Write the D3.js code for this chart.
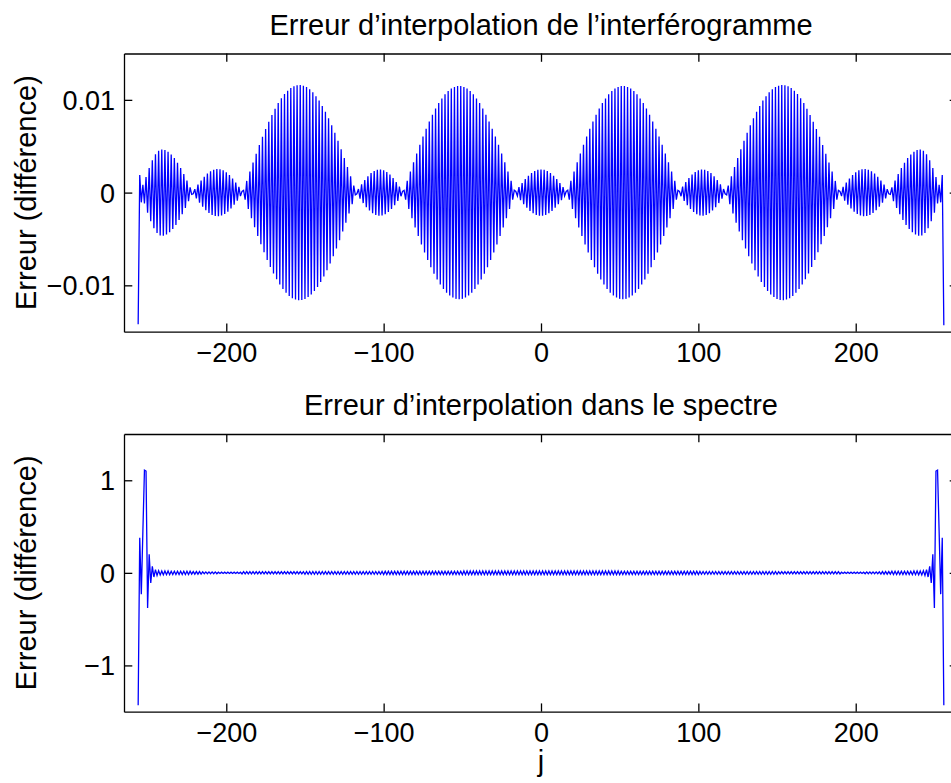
<!DOCTYPE html>
<html>
<head>
<meta charset="utf-8">
<title>Erreur d'interpolation</title>
<script src="https://d3js.org/d3.v7.min.js"></script>
<style>
  body { margin: 0; background: #fff; }
  svg { display: block; font-family: "Liberation Sans", Arial, Helvetica, sans-serif; }
  .axis path, .axis line { stroke: #000; stroke-width: 1.3; }
  .axis text { font-size: 27px; fill: #000; font-family: "Liberation Sans", Arial, sans-serif; }
  .title, .label { font-size: 29px; fill: #000; }
</style>
</head>
<body>
<div id="chart"></div>
<script>
// sample index j runs from jStart upwards, one value per sample
var jStart = -256;

// interferogram error, units of 1e-5
var interfErr = [
  -1420,
  190, -105, 85, -118, 168, -218, 265, -310, 349, -384, 413, -436, 452, -462, 465,
  -464, 459, -452, 441, -428, 412, -393, 372, -348, 322, -294, 264, -233, 199, -165, 129, -93, 56, -19,
  -13, 37, -62, 86, -109, 131, -152, 171, -189, 205, -219, 231, -240, 247, -252, 255,
  -255, 252, -247, 240, -231, 219, -205, 189, -171, 152, -131, 109, -86, 62, -37, 13,
  25, -76, 126, -176, 226, -276, 325, -373, 420, -467, 513, -558, 602, -644, 686, -726, 765, -802,
  838, -872, 905, -935, 965, -992, 1017, -1040, 1062, -1081, 1098, -1114, 1127, -1138, 1147, -1153, 1158, -1160,
  1160, -1158, 1153, -1147, 1138, -1127, 1114, -1098, 1081, -1062, 1040, -1017, 992, -965, 935, -905, 872, -838,
  802, -765, 726, -686, 644, -602, 558, -513, 467, -420, 373, -325, 276, -226, 176, -126, 76, -25,
  -13, 39, -65, 90, -113, 136, -157, 177, -194, 210, -223, 233, -241, 247, -250,
  250, -247, 241, -233, 223, -210, 194, -177, 157, -136, 113, -90, 65, -39, 13,
  25, -76, 127, -177, 227, -277, 326, -375, 422, -469, 515, -560, 604, -647, 688, -728, 767, -804,
  840, -874, 906, -936, 965, -992, 1016, -1039, 1060, -1079, 1095, -1110, 1122, -1132, 1140, -1146, 1149,
  -1150,
  1149, -1146, 1140, -1132, 1122, -1110, 1095, -1079, 1060, -1039, 1016, -992, 965, -936, 906, -874, 840,
  -804, 767, -728, 688, -647, 604, -560, 515, -469, 422, -375, 326, -277, 227, -177, 127, -76, 25,
  12, -36, 59, -82, 104, -125, 145, -164, 181, -197, 210, -222, 232, -240, 245, -249,
  250,
  -249, 245, -240, 232, -222, 210, -197, 181, -164, 145, -125, 104, -82, 59, -36, 12,
  25, -76, 127, -177, 227, -277, 326, -375, 422, -469, 515, -560, 604, -647, 688, -728, 767, -804,
  840, -874, 906, -936, 965, -992, 1016, -1039, 1060, -1079, 1095, -1110, 1122, -1132, 1140, -1146, 1149,
  -1150,
  1149, -1146, 1140, -1132, 1122, -1110, 1095, -1079, 1060, -1039, 1016, -992, 965, -936, 906, -874, 840,
  -804, 767, -728, 688, -647, 604, -560, 515, -469, 422, -375, 326, -277, 227, -177, 127, -76, 25,
  13, -39, 65, -90, 113, -136, 157, -177, 194, -210, 223, -233, 241, -247, 250,
  -250, 247, -241, 233, -223, 210, -194, 177, -157, 136, -113, 90, -65, 39, -13,
  -25, 76, -126, 176, -226, 276, -325, 373, -420, 467, -513, 558, -602, 644, -686, 726, -765, 802,
  -838, 872, -905, 935, -965, 992, -1017, 1040, -1062, 1081, -1098, 1114, -1127, 1138, -1147, 1153, -1158, 1160,
  -1160, 1158, -1153, 1147, -1138, 1127, -1114, 1098, -1081, 1062, -1040, 1017, -992, 965, -935, 905, -872, 838,
  -802, 765, -726, 686, -644, 602, -558, 513, -467, 420, -373, 325, -276, 226, -176, 126, -76, 25,
  13, -37, 62, -86, 109, -131, 152, -171, 189, -205, 219, -231, 240, -247, 252, -255,
  255, -252, 247, -240, 231, -219, 205, -189, 171, -152, 131, -109, 86, -62, 37, -13,
  -19, 56, -93, 129, -165, 199, -233, 264, -294, 322, -348, 372, -393, 412, -428, 441, -452, 459, -464,
  465, -462, 452, -436, 413, -384, 349, -310, 265, -218, 168, -118, 85, -105, 190,
  -1430
];

// spectrum error, units of 1e-3
var spectErr = [
  -1430, 380, -230, 450, 1110, 1100, -380, 200, -110, 70, -45, 35, -28, 24, -22, 21,
  -20, 20, -20, 20, -20,
  18, -18, 18, -18, 18, -18, 18, -18, 18, -18, 18, -18, 18,
  -14, 14, -14, 14, -14, 14, -14,
  10, -10, 10, -10, 10, -10, 10, -10, 10, -10,
  7, -7, 7, -7, 7, -7, 7, -7, 7, -7, 7, -7, 7, -7, 7,
  -12, 12, -12, 12, -12, 12, -12, 12, -12, 12, -12, 12, -12, 12, -12, 12, -12, 12, -12, 12,
  -12, 12, -12, 12, -12, 12, -12, 12, -12, 12, -12, 12, -12, 12, -12, 12, -12, 12, -12, 12,
  -15, 15, -15, 15, -15, 15, -15, 15, -15, 15, -15, 15, -15, 15, -15, 15, -15, 15, -15, 15,
  -15, 15, -15, 15, -15, 15, -15, 15, -15, 15, -15, 15, -15, 15, -15, 15, -15, 15, -15, 15,
  -15, 15, -15, 15, -15, 15, -15, 15, -15, 15,
  -18, 18, -18, 18, -18, 18, -18, 18, -18, 18, -18, 18, -18, 18, -18, 18, -18, 18, -18, 18,
  -18, 18, -18, 18, -18, 18, -18, 18, -18, 18, -18, 18, -18, 18, -18, 18, -18, 18, -18, 18,
  -18, 18, -18, 18, -18, 18, -18, 18, -18, 18,
  -20, 20, -20, 20, -20, 20, -20, 20, -20, 20, -20, 20, -20, 20, -20, 20, -20, 20, -20, 20,
  -20, 20, -20, 20, -20, 20, -20, 20, -20, 20, -20, 20, -20, 20, -20, 20, -20, 20, -20, 20,
  -20, 20, -20, 20, -20, 20, -20, 20, -20, 20,
  -20,
  20, -20, 20, -20, 20, -20, 20, -20, 20, -20, 20, -20, 20, -20, 20, -20, 20, -20, 20, -20,
  20, -20, 20, -20, 20, -20, 20, -20, 20, -20, 20, -20, 20, -20, 20, -20, 20, -20, 20, -20,
  20, -20, 20, -20, 20, -20, 20, -20, 20, -20,
  18, -18, 18, -18, 18, -18, 18, -18, 18, -18, 18, -18, 18, -18, 18, -18, 18, -18, 18, -18,
  18, -18, 18, -18, 18, -18, 18, -18, 18, -18, 18, -18, 18, -18, 18, -18, 18, -18, 18, -18,
  18, -18, 18, -18, 18, -18, 18, -18, 18, -18,
  15, -15, 15, -15, 15, -15, 15, -15, 15, -15, 15, -15, 15, -15, 15, -15, 15, -15, 15, -15,
  15, -15, 15, -15, 15, -15, 15, -15, 15, -15, 15, -15, 15, -15, 15, -15, 15, -15, 15, -15,
  15, -15, 15, -15, 15, -15, 15, -15, 15, -15,
  12, -12, 12, -12, 12, -12, 12, -12, 12, -12, 12, -12, 12, -12, 12, -12, 12, -12, 12, -12,
  12, -12, 12, -12, 12, -12, 12, -12, 12, -12, 12, -12, 12, -12, 12, -12, 12, -12, 12, -12,
  7, -7, 7, -7, 7, -7, 7, -7, 7, -7, 7, -7, 7, -7, 7,
  -10, 10, -10, 10, -10, 10, -10, 10, -10, 10,
  -14, 14, -14, 14, -14, 14, -14,
  18, -18, 18, -18, 18, -18, 18, -18, 18, -18, 18, -18, 18,
  -20, 20, -20, 20, -20,
  21, -22, 24, -28, 35, -45, 70, -110, 200, -380, 1100, 1110, 450, -230, 380, -1430
];

var xTicks = [-200, -100, 0, 100, 200];
var yTicksTop = [-1000, 0, 1000];
var yTickLabelsTop = ['\u22120.01', '0', '0.01'];
var yTicksBot = [-1000, 0, 1000];
var yTickLabelsBot = ['\u22121', '0', '1'];

var W = 951, H = 783;
var left = 124, right = 958, tick = 8.3;

var svg = d3.select('#chart').append('svg')
  .attr('width', W)
  .attr('height', H);

var x = d3.scaleLinear().domain([-265, 265]).range([left, right]);

function fmtX(d) { return d < 0 ? '\u2212' + (-d) : String(d); }

function panel(top, bottom, values, yTicks, yLabels, title, xlabel) {
  var y = d3.scaleLinear().domain([-1500, 1500]).range([bottom, top]);
  var g = svg.append('g');

  g.append('path')
    .datum(values)
    .attr('fill', 'none')
    .attr('stroke', '#0000ff')
    .attr('stroke-width', 1.3)
    .attr('d', d3.line()
      .x((d, i) => x(jStart + i))
      .y(d => y(d)));

  g.append('g').attr('class', 'axis')
    .attr('transform', 'translate(0,' + bottom + ')')
    .call(d3.axisBottom(x).tickValues(xTicks).tickSizeInner(-tick).tickSizeOuter(0)
      .tickPadding(11).tickFormat(fmtX));
  g.append('g').attr('class', 'axis')
    .attr('transform', 'translate(0,' + top + ')')
    .call(d3.axisTop(x).tickValues(xTicks).tickSizeInner(-tick).tickSizeOuter(0)
      .tickFormat(''));
  g.append('g').attr('class', 'axis')
    .attr('transform', 'translate(' + left + ',0)')
    .call(d3.axisLeft(y).tickValues(yTicks).tickSizeInner(-tick).tickSizeOuter(0)
      .tickPadding(9).tickFormat((d, i) => yLabels[i]));
  g.append('g').attr('class', 'axis')
    .attr('transform', 'translate(' + right + ',0)')
    .call(d3.axisRight(y).tickValues(yTicks).tickSizeInner(-tick).tickSizeOuter(0)
      .tickFormat(''));

  g.selectAll('.axis text').each(function () {
    var t = d3.select(this);
    if (t.attr('x') !== null && +t.attr('x') < 0) t.attr('dy', '0.35em');
    else t.attr('dy', '0.71em');
  });

  g.append('text').attr('class', 'title')
    .attr('x', (left + right) / 2)
    .attr('y', top - 19)
    .attr('text-anchor', 'middle')
    .text(title);

  g.append('text').attr('class', 'label')
    .attr('transform', 'translate(36,' + (top + bottom) / 2 + ') rotate(-90)')
    .attr('text-anchor', 'middle')
    .text('Erreur (différence)');

  if (xlabel) {
    g.append('text').attr('class', 'label')
      .attr('x', (left + right) / 2)
      .attr('y', bottom + 59)
      .attr('text-anchor', 'middle')
      .text(xlabel);
  }
}

panel(53.5, 331.7, interfErr, yTicksTop, yTickLabelsTop,
  'Erreur d\u2019interpolation de l\u2019interférogramme', null);
panel(434, 711.7, spectErr, yTicksBot, yTickLabelsBot,
  'Erreur d\u2019interpolation dans le spectre', 'j');
</script>
</body>
</html>
